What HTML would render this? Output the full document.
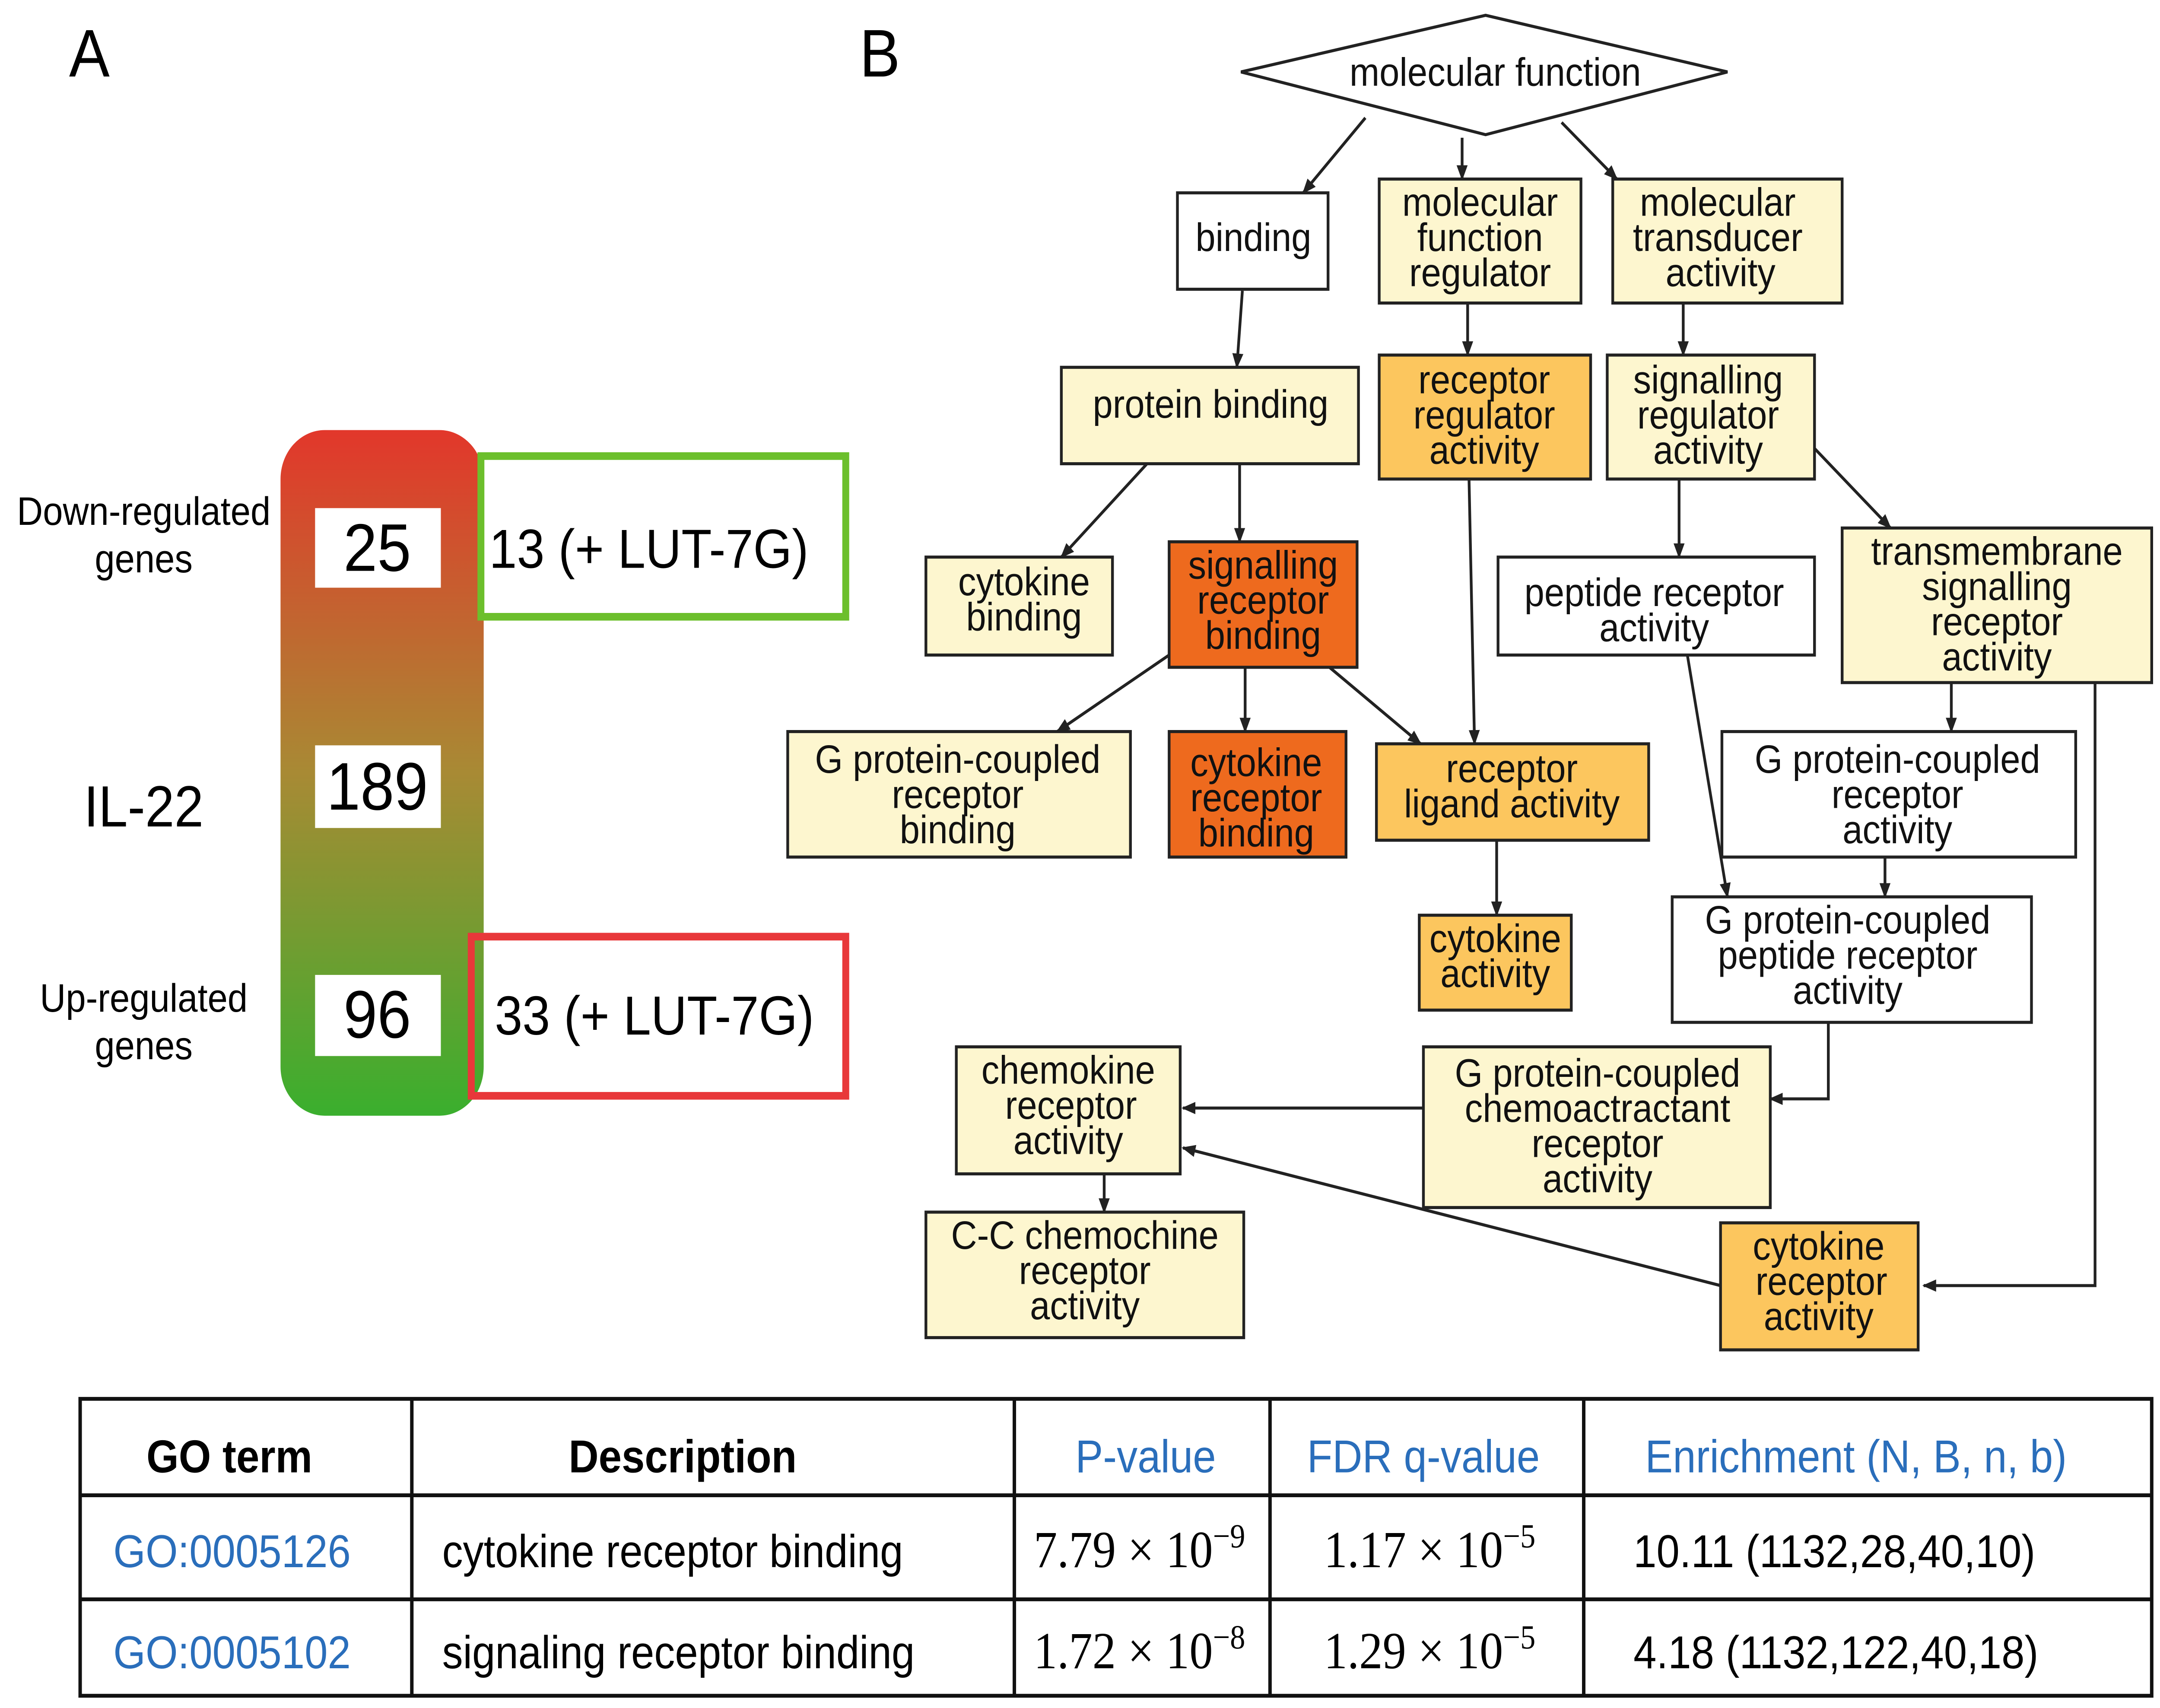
<!DOCTYPE html>
<html><head><meta charset="utf-8"><style>
html,body{margin:0;padding:0;background:#fff;overflow:hidden;width:100vw;height:100vh;}
svg{display:block;position:fixed;left:0;top:0;width:100vw;height:100vh;}
.n{font-family:"Liberation Sans",sans-serif;font-size:26px;text-anchor:middle;fill:#111;}
</style></head><body>
<svg viewBox="0 0 1563 1116" preserveAspectRatio="none" xmlns="http://www.w3.org/2000/svg">
<defs>
<linearGradient id="g" x1="0" y1="0" x2="0" y2="1">
<stop offset="0" stop-color="#e2372b"/><stop offset="0.5" stop-color="#a88a34"/><stop offset="1" stop-color="#3aaf2e"/>
</linearGradient>
<marker id="a" markerWidth="10" markerHeight="10" refX="9" refY="5" orient="auto" markerUnits="userSpaceOnUse"><path d="M0,1 L10,5 L0,9 z" fill="#222"/></marker>
</defs>
<rect width="1563" height="1116" fill="#fff"/>
<g font-family="Liberation Sans,sans-serif">
<text x="50" y="50" font-size="44">A</text>
<text x="622" y="50" font-size="44">B</text>
<rect x="203" y="281" width="147" height="448" rx="32" fill="url(#g)"/>
<rect x="228" y="332" width="91" height="52" fill="#fff"/>
<rect x="228" y="487" width="91" height="54" fill="#fff"/>
<rect x="228" y="637" width="91" height="53" fill="#fff"/>
<text x="273" y="373" font-size="44" text-anchor="middle">25</text>
<text x="273" y="529" font-size="44" text-anchor="middle">189</text>
<text x="273" y="678" font-size="44" text-anchor="middle">96</text>
<rect x="348" y="298" width="264" height="105" fill="none" stroke="#6cbf2c" stroke-width="5"/>
<rect x="341" y="612" width="271" height="104" fill="none" stroke="#e8383a" stroke-width="5"/>
<text x="354" y="371" font-size="36">13 (+ LUT-7G)</text>
<text x="358" y="676" font-size="36">33 (+ LUT-7G)</text>
<text x="104" y="343" font-size="26" text-anchor="middle">Down-regulated</text>
<text x="104" y="374" font-size="26" text-anchor="middle">genes</text>
<text x="104" y="540" font-size="38" text-anchor="middle">IL-22</text>
<text x="104" y="661" font-size="26" text-anchor="middle">Up-regulated</text>
<text x="104" y="692" font-size="26" text-anchor="middle">genes</text>
</g>
<g stroke="#222" stroke-width="2">
<polygon points="898,47 1075,10 1250,47 1075,88" fill="#fff"/>
<rect x="852" y="126" width="109" height="63" fill="#fff"/>
<rect x="998" y="117" width="146" height="81" fill="#fdf6cf"/>
<rect x="1167" y="117" width="166" height="81" fill="#fdf6cf"/>
<rect x="768" y="240" width="215" height="63" fill="#fdf6cf"/>
<rect x="998" y="232" width="153" height="81" fill="#fcc65e"/>
<rect x="1163" y="232" width="150" height="81" fill="#fdf6cf"/>
<rect x="670" y="364" width="135" height="64" fill="#fdf6cf"/>
<rect x="846" y="354" width="136" height="82" fill="#ee6a1e"/>
<rect x="1084" y="364" width="229" height="64" fill="#fff"/>
<rect x="1333" y="345" width="224" height="101" fill="#fdf6cf"/>
<rect x="570" y="478" width="248" height="82" fill="#fdf6cf"/>
<rect x="846" y="478" width="128" height="82" fill="#ee6a1e"/>
<rect x="996" y="486" width="197" height="63" fill="#fcc65e"/>
<rect x="1246" y="478" width="256" height="82" fill="#fff"/>
<rect x="1027" y="598" width="110" height="62" fill="#fcc65e"/>
<rect x="1210" y="586" width="260" height="82" fill="#fff"/>
<rect x="692" y="684" width="162" height="83" fill="#fdf6cf"/>
<rect x="1030" y="684" width="251" height="105" fill="#fdf6cf"/>
<rect x="670" y="792" width="230" height="82" fill="#fdf6cf"/>
<rect x="1245" y="799" width="143" height="83" fill="#fcc65e"/>
</g>
<g stroke="#222" stroke-width="2" fill="none" marker-end="url(#a)">
<line x1="988" y1="77" x2="943" y2="126"/>
<line x1="1058" y1="90" x2="1058" y2="117"/>
<line x1="1130" y1="80" x2="1170" y2="117"/>
<line x1="899" y1="190" x2="895" y2="240"/>
<line x1="1062" y1="198" x2="1062" y2="232"/>
<line x1="1218" y1="198" x2="1218" y2="232"/>
<line x1="830" y1="303" x2="768" y2="364"/>
<line x1="897" y1="303" x2="897" y2="354"/>
<line x1="1063" y1="313" x2="1067" y2="486"/>
<line x1="1215" y1="313" x2="1215" y2="364"/>
<line x1="1313" y1="293" x2="1368" y2="345"/>
<line x1="846" y1="428" x2="765" y2="478"/>
<line x1="901" y1="436" x2="901" y2="478"/>
<line x1="962" y1="436" x2="1028" y2="486"/>
<line x1="1083" y1="549" x2="1083" y2="598"/>
<line x1="1221" y1="428" x2="1250" y2="586"/>
<line x1="1412" y1="446" x2="1412" y2="478"/>
<line x1="1364" y1="560" x2="1364" y2="586"/>
<polyline points="1323,668 1323,718 1281,718"/>
<line x1="1030" y1="724" x2="856" y2="724"/>
<line x1="1245" y1="840" x2="856" y2="750"/>
<line x1="799" y1="767" x2="799" y2="792"/>
<polyline points="1516,446 1516,840 1392,840"/>
</g>
<g class="n">
<text x="1082" y="56" class="n">molecular function</text>
<text x="907" y="164" class="n">binding</text>
<text x="1071" y="141" class="n">molecular</text><text x="1071" y="164" class="n">function</text><text x="1071" y="187" class="n">regulator</text>
<text x="1243" y="141" class="n">molecular</text><text x="1243" y="164" class="n">transducer</text><text x="1245" y="187" class="n">activity</text>
<text x="876" y="273" class="n">protein binding</text>
<text x="1074" y="257" class="n">receptor</text><text x="1074" y="280" class="n">regulator</text><text x="1074" y="303" class="n">activity</text>
<text x="1236" y="257" class="n">signalling</text><text x="1236" y="280" class="n">regulator</text><text x="1236" y="303" class="n">activity</text>
<text x="741" y="389" class="n">cytokine</text><text x="741" y="412" class="n">binding</text>
<text x="914" y="378" class="n">signalling</text><text x="914" y="401" class="n">receptor</text><text x="914" y="424" class="n">binding</text>
<text x="1197" y="396" class="n">peptide receptor</text><text x="1197" y="419" class="n">activity</text>
<text x="1445" y="369" class="n">transmembrane</text><text x="1445" y="392" class="n">signalling</text><text x="1445" y="415" class="n">receptor</text><text x="1445" y="438" class="n">activity</text>
<text x="693" y="505" class="n">G protein-coupled</text><text x="693" y="528" class="n">receptor</text><text x="693" y="551" class="n">binding</text>
<text x="909" y="507" class="n">cytokine</text><text x="909" y="530" class="n">receptor</text><text x="909" y="553" class="n">binding</text>
<text x="1094" y="511" class="n">receptor</text><text x="1094" y="534" class="n">ligand activity</text>
<text x="1373" y="505" class="n">G protein-coupled</text><text x="1373" y="528" class="n">receptor</text><text x="1373" y="551" class="n">activity</text>
<text x="1082" y="622" class="n">cytokine</text><text x="1082" y="645" class="n">activity</text>
<text x="1337" y="610" class="n">G protein-coupled</text><text x="1337" y="633" class="n">peptide receptor</text><text x="1337" y="656" class="n">activity</text>
<text x="773" y="708" class="n">chemokine</text><text x="775" y="731" class="n">receptor</text><text x="773" y="754" class="n">activity</text>
<text x="1156" y="710" class="n">G protein-coupled</text><text x="1156" y="733" class="n">chemoactractant</text><text x="1156" y="756" class="n">receptor</text><text x="1156" y="779" class="n">activity</text>
<text x="785" y="816" class="n">C-C chemochine</text><text x="785" y="839" class="n">receptor</text><text x="785" y="862" class="n">activity</text>
<text x="1316" y="823" class="n">cytokine</text><text x="1318" y="846" class="n">receptor</text><text x="1316" y="869" class="n">activity</text>
</g>
<g stroke="#111" stroke-width="2.5" fill="none">
<rect x="58" y="914" width="1499" height="194"/>
<line x1="58" y1="977" x2="1557" y2="977"/>
<line x1="58" y1="1045" x2="1557" y2="1045"/>
<line x1="298" y1="914" x2="298" y2="1108"/>
<line x1="734" y1="914" x2="734" y2="1108"/>
<line x1="919" y1="914" x2="919" y2="1108"/>
<line x1="1146" y1="914" x2="1146" y2="1108"/>
</g>
<g font-family="Liberation Sans,sans-serif" font-size="30">
<text x="166" y="962" text-anchor="middle" font-weight="bold">GO term</text>
<text x="494" y="962" text-anchor="middle" font-weight="bold">Description</text>
<text x="829" y="962" text-anchor="middle" fill="#2a6ebb">P-value</text>
<text x="1030" y="962" text-anchor="middle" fill="#2a6ebb">FDR q-value</text>
<text x="1343" y="962" text-anchor="middle" fill="#2a6ebb">Enrichment (N, B, n, b)</text>
<text x="82" y="1024" fill="#2a6ebb">GO:0005126</text>
<text x="320" y="1024">cytokine receptor binding</text>
<text x="1182" y="1024">10.11 (1132,28,40,10)</text>
<text x="82" y="1090" fill="#2a6ebb">GO:0005102</text>
<text x="320" y="1090">signaling receptor binding</text>
<text x="1182" y="1090">4.18 (1132,122,40,18)</text>
</g>
<g font-family="Liberation Serif,serif" font-size="34">
<text x="748" y="1024">7.79 × 10<tspan font-size="22" dy="-13">−9</tspan></text>
<text x="958" y="1024">1.17 × 10<tspan font-size="22" dy="-13">−5</tspan></text>
<text x="748" y="1090">1.72 × 10<tspan font-size="22" dy="-13">−8</tspan></text>
<text x="958" y="1090">1.29 × 10<tspan font-size="22" dy="-13">−5</tspan></text>
</g>
</svg>
</body></html>
